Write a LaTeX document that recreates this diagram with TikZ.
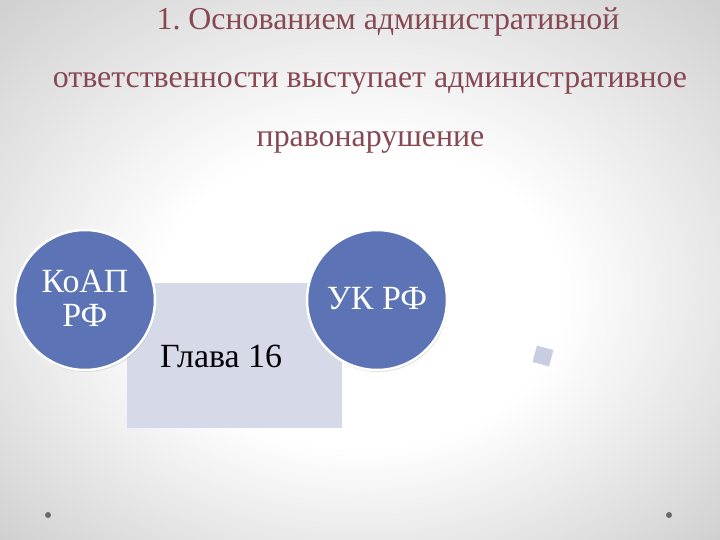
\documentclass[tikz,border=0pt]{standalone}
\usepackage{fontspec}
\setmainfont{Liberation Serif}
\usetikzlibrary{shadows}
\frenchspacing
\definecolor{titlec}{RGB}{135,72,82}
\definecolor{circc}{RGB}{92,116,181}
\definecolor{rectc}{RGB}{213,217,232}
\definecolor{sqc}{RGB}{200,205,226}
\definecolor{dotc}{RGB}{105,105,105}
\pgfdeclareradialshading{bgshade}{\pgfpoint{0bp}{-4bp}}{color(0bp)=(white); color(14bp)=(white); color(36bp)=(black!19)}
\tikzset{
  titletext/.style={text=titlec, font=\fontsize{32}{34}\selectfont, inner sep=0pt, anchor=base},
  circnode/.style={circle, fill=circc, draw=white, line width=2.5bp, minimum size=140bp, inner sep=0pt, drop shadow={shadow xshift=1bp, shadow yshift=-2bp, opacity=0.25}},
  circtext/.style={text=white, font=\fontsize{34}{34}\selectfont, inner sep=0pt, anchor=base},
  rectnode/.style={fill=rectc, minimum width=215bp, minimum height=145bp, inner sep=0pt},
  dotnode/.style={circle, fill=dotc, minimum size=6bp, inner sep=0pt},
}
\begin{document}
\begin{tikzpicture}[x=1bp,y=-1bp]
\useasboundingbox (0,0) rectangle (720,540);
\shade[shading=bgshade] (0,0) rectangle (720,540);
% title
\node[titletext] (t1) at (388,30) {1. Основанием административной};
\node[titletext] (t2) at (370,88) {ответственности выступает административное};
\node[titletext] (t3) at (370.5,147) {правонарушение};
% rectangle
\node[rectnode] (r) at (234.5,355.5) {};
\node[anchor=base west, font=\fontsize{34}{34}\selectfont, text=black, inner sep=0pt] (g) at (160,367) {Глава 16};
% circles
\node[circnode] (k) at (85,300) {};
\node[circtext] (k1) at (85,292) {КоАП};
\node[circtext] (k2) at (85,326) {РФ};
\node[circnode] (u) at (377,300) {};
\node[circtext] (u1) at (377,309) {УК РФ};
% small square
\node[fill=sqc, minimum size=17bp, inner sep=0pt, rotate=-15] (sq) at (543,356) {};
% dots
\node[dotnode] (d1) at (48,515) {};
\node[dotnode] (d2) at (669,515) {};
\end{tikzpicture}
\end{document}
